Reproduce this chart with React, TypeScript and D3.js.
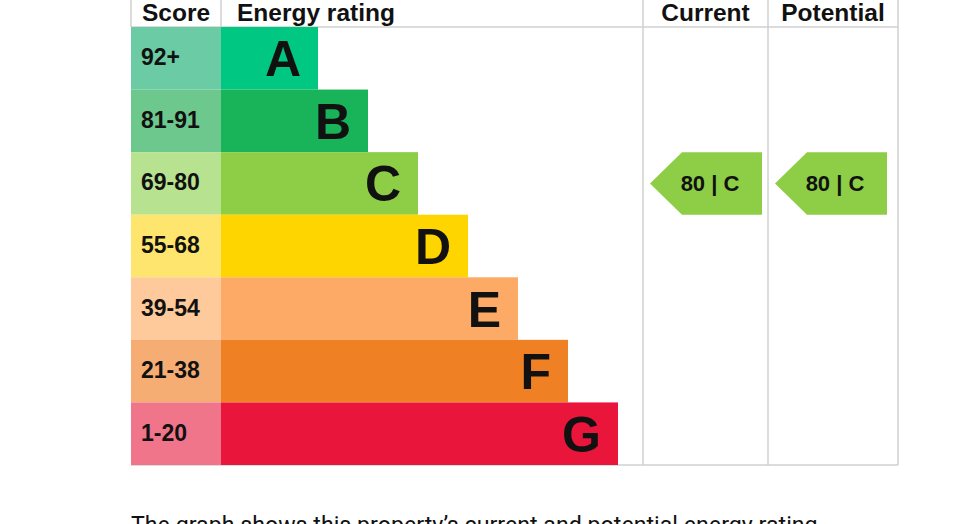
import React from "react";
import * as d3 from "d3";

const bands = ["A", "B", "C", "D", "E", "F", "G"];
const scoreLabels = ["92+", "81-91", "69-80", "55-68", "39-54", "21-38", "1-20"];
const scoreMins = [92, 81, 69, 55, 39, 21, 1];
const barColors = ["#00c781", "#19b459", "#8dce46", "#ffd500", "#fcaa65", "#ef8023", "#e9153b"];
const scoreColors = ["#6acba4", "#6dc88e", "#b7e28f", "#fee56d", "#fec99b", "#f5ad74", "#f0748a"];
const headers = ["Score", "Energy rating", "Current", "Potential"];
const currentScore = 80;
const potentialScore = 80;
const caption = "The graph shows this property\u2019s current and potential energy rating.";

const W = 956;
const H = 524;
const left = 131;
const scoreRight = 221;
const curLeft = 643;
const potLeft = 768;
const right = 898;
const headerBottom = 27;
const tableBottom = 465;
const FONT = "'Liberation Sans', Arial, sans-serif";
const grid = "#d0d0d0";

function bandOf(score: number) {
  const i = scoreMins.findIndex((m) => score >= m);
  return i < 0 ? bands.length - 1 : i;
}

export default function App() {
  const y = d3.scaleBand<string>().domain(bands).range([headerBottom, tableBottom]).padding(0);
  const xEnd = d3.scaleLinear().domain([0, bands.length - 1]).range([318, 618]);
  const rh = y.bandwidth();

  const arrow = (x0: number, x1: number, score: number, key: string) => {
    const i = bandOf(score);
    const top = y(bands[i])!;
    const bot = top + rh;
    const mid = (top + bot) / 2;
    const tip = 32;
    const path = d3.path();
    path.moveTo(x0, mid);
    path.lineTo(x0 + tip, top);
    path.lineTo(x1, top);
    path.lineTo(x1, bot);
    path.lineTo(x0 + tip, bot);
    path.closePath();
    return (
      <g key={key}>
        <path d={path.toString()} fill={barColors[i]} />
        <text
          x={(x0 + x1) / 2 + 4}
          y={mid + 8}
          textAnchor="middle"
          fontFamily={FONT}
          fontWeight="bold"
          fontSize={22}
          fill="#111"
        >
          {`${score} | ${bands[i]}`}
        </text>
      </g>
    );
  };

  return (
    <svg
      width={W}
      height={H}
      style={{ position: "absolute", left: 0, top: 0, background: "#fff" }}
    >
      {/* header */}
      <text x={(left + scoreRight) / 2} y={21} textAnchor="middle" fontFamily={FONT} fontWeight="bold" fontSize={24.5} fill="#111">
        {headers[0]}
      </text>
      <text x={237} y={21} fontFamily={FONT} fontWeight="bold" fontSize={24.5} fill="#111">
        {headers[1]}
      </text>
      <text x={(curLeft + potLeft) / 2} y={21} textAnchor="middle" fontFamily={FONT} fontWeight="bold" fontSize={24.5} fill="#111">
        {headers[2]}
      </text>
      <text x={(potLeft + right) / 2} y={21} textAnchor="middle" fontFamily={FONT} fontWeight="bold" fontSize={24.5} fill="#111">
        {headers[3]}
      </text>

      {/* grid lines */}
      <line x1={left} x2={left} y1={0} y2={headerBottom} stroke={grid} strokeWidth={1.5} />
      <line x1={scoreRight} x2={scoreRight} y1={0} y2={headerBottom} stroke={grid} strokeWidth={1.5} />
      <line x1={curLeft} x2={curLeft} y1={0} y2={tableBottom} stroke={grid} strokeWidth={1.5} />
      <line x1={potLeft} x2={potLeft} y1={0} y2={tableBottom} stroke={grid} strokeWidth={1.5} />
      <line x1={right} x2={right} y1={0} y2={tableBottom} stroke={grid} strokeWidth={1.5} />
      <line x1={left} x2={right} y1={headerBottom} y2={headerBottom} stroke={grid} strokeWidth={1.5} />
      <line x1={left} x2={right} y1={tableBottom} y2={tableBottom} stroke={grid} strokeWidth={1.5} />

      {/* rows */}
      {bands.map((b, i) => {
        const top = y(b)!;
        const mid = top + rh / 2;
        const end = xEnd(i);
        return (
          <g key={b}>
            <rect x={left} y={top} width={scoreRight - left} height={rh} fill={scoreColors[i]} />
            <rect x={scoreRight} y={top} width={end - scoreRight} height={rh} fill={barColors[i]} />
            <text x={141} y={mid + 7} fontFamily={FONT} fontWeight="bold" fontSize={23} fill="#111">
              {scoreLabels[i]}
            </text>
            <text x={end - 17} y={mid + 18} textAnchor="end" fontFamily={FONT} fontWeight="bold" fontSize={50} fill="#111">
              {b}
            </text>
          </g>
        );
      })}

      {arrow(650, 762, currentScore, "cur")}
      {arrow(775, 887, potentialScore, "pot")}

      <text x={131} y={533} fontFamily="Roboto, 'Noto Sans', sans-serif" fontSize={23.2} fill="#111">
        {caption}
      </text>
    </svg>
  );
}
